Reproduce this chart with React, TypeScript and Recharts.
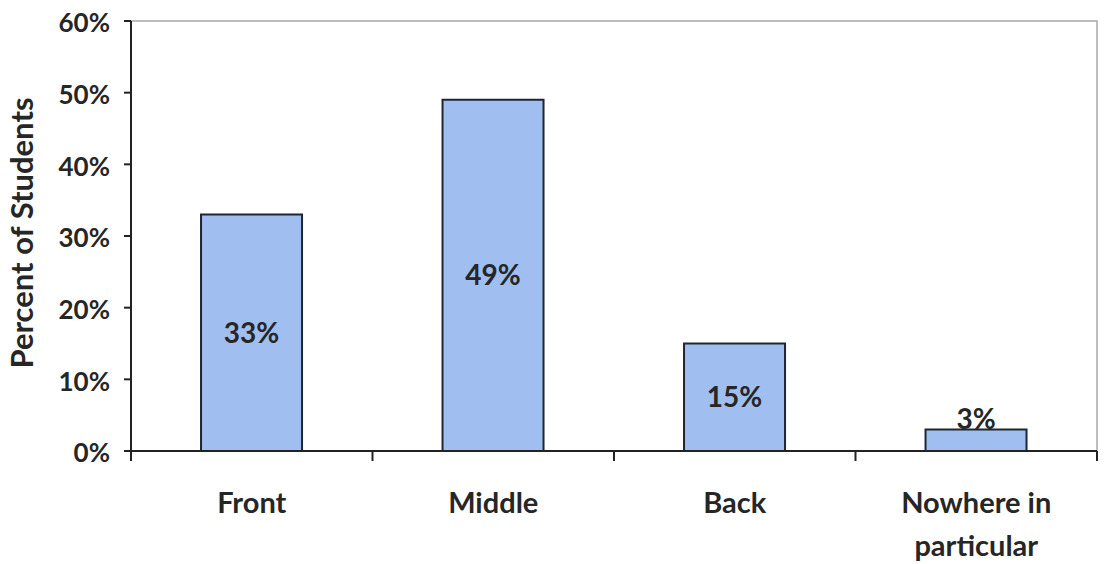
import React from "react";
import {
  BarChart,
  Bar,
  XAxis,
  YAxis,
  LabelList,
  ReferenceArea,
} from "recharts";

// Where students prefer to sit, as a share of all respondents
const categories = ["Front", "Middle", "Back", "Nowhere in particular"];
const percentValues = [33, 49, 15, 3];
const yTicks = [0, 10, 20, 30, 40, 50, 60];
const boundaryTicks = [0, 1, 2, 3, 4];

const data = categories.map((name, i) => ({
  name,
  value: percentValues[i],
  idx: i + 0.5,
}));

const FONT = "Lato, 'Open Sans', 'DejaVu Sans', sans-serif";
const TEXT = "#262626";

const CategoryTick = (props: any) => {
  const { x, y, payload } = props;
  const label: string = payload.value;
  const lines =
    label === "Nowhere in particular" ? ["Nowhere in", "particular"] : [label];
  return (
    <text
      x={x}
      y={y}
      textAnchor="middle"
      fontFamily={FONT}
      fontWeight={700}
      fontSize={29}
      fill={TEXT}
    >
      {lines.map((ln, i) => (
        <tspan key={i} x={x} dy={i === 0 ? 53 : 43}>
          {ln}
        </tspan>
      ))}
    </text>
  );
};

// boundary axis draws only its tick marks
const NoTickText = () => <g />;

const ValueLabel = (props: any) => {
  const { x, y, width, height, value } = props;
  const cx = x + width / 2;
  // small bars get their label just above the top edge
  const cy = value < 5 ? y - 1 : y + height / 2 + 10;
  return (
    <text
      x={cx}
      y={cy}
      textAnchor="middle"
      fontFamily={FONT}
      fontWeight={700}
      fontSize={28}
      fill={TEXT}
    >
      {`${value}%`}
    </text>
  );
};

const YTitle = (props: any) => {
  const { viewBox } = props;
  const cx = 21;
  const cy = viewBox.y + viewBox.height / 2 - 3;
  return (
    <text
      x={cx}
      y={cy}
      transform={`rotate(-90, ${cx}, ${cy})`}
      textAnchor="middle"
      dominantBaseline="central"
      fontFamily={FONT}
      fontWeight={700}
      fontSize={31}
      fill={TEXT}
    >
      Percent of Students
    </text>
  );
};

export default function App() {
  return (
    <div
      style={{
        position: "absolute",
        left: 0,
        top: 0,
        width: 1107,
        height: 564,
        background: "#ffffff",
      }}
    >
      <BarChart
        width={1107}
        height={564}
        data={data}
        margin={{ top: 21, right: 10, bottom: 0, left: 31 }}
        barCategoryGap="29%"
      >
        <XAxis
          xAxisId="bounds"
          type="number"
          dataKey="idx"
          domain={[0, 4]}
          ticks={boundaryTicks}
          height={1}
          tick={<NoTickText />}
          axisLine={{ stroke: "#222", strokeWidth: 2 }}
          tickLine={{ stroke: "#222", strokeWidth: 2 }}
          tickSize={10}
        />
        <XAxis
          xAxisId="cat"
          dataKey="name"
          height={112}
          axisLine={false}
          tickLine={false}
          tick={<CategoryTick />}
          interval={0}
        />
        <YAxis
          domain={[0, 60]}
          ticks={yTicks}
          width={100}
          interval={0}
          tickFormatter={(v: number) => `${v}%`}
          tick={{
            fontFamily: FONT,
            fontWeight: 700,
            fontSize: 26,
            fill: TEXT,
            dy: 2,
          }}
          tickSize={7}
          tickMargin={14}
          axisLine={{ stroke: "#222", strokeWidth: 2 }}
          tickLine={{ stroke: "#222", strokeWidth: 2 }}
          label={<YTitle />}
        />
        <ReferenceArea
          xAxisId="cat"
          y1={0}
          y2={60}
          fill="none"
          stroke="#a8a8a8"
          strokeWidth={1.5}
          ifOverflow="visible"
        />
        <Bar
          xAxisId="cat"
          dataKey="value"
          fill="#a0bef0"
          stroke="#1f2630"
          strokeWidth={2}
          isAnimationActive={false}
        >
          <LabelList dataKey="value" content={<ValueLabel />} />
        </Bar>
      </BarChart>
    </div>
  );
}
